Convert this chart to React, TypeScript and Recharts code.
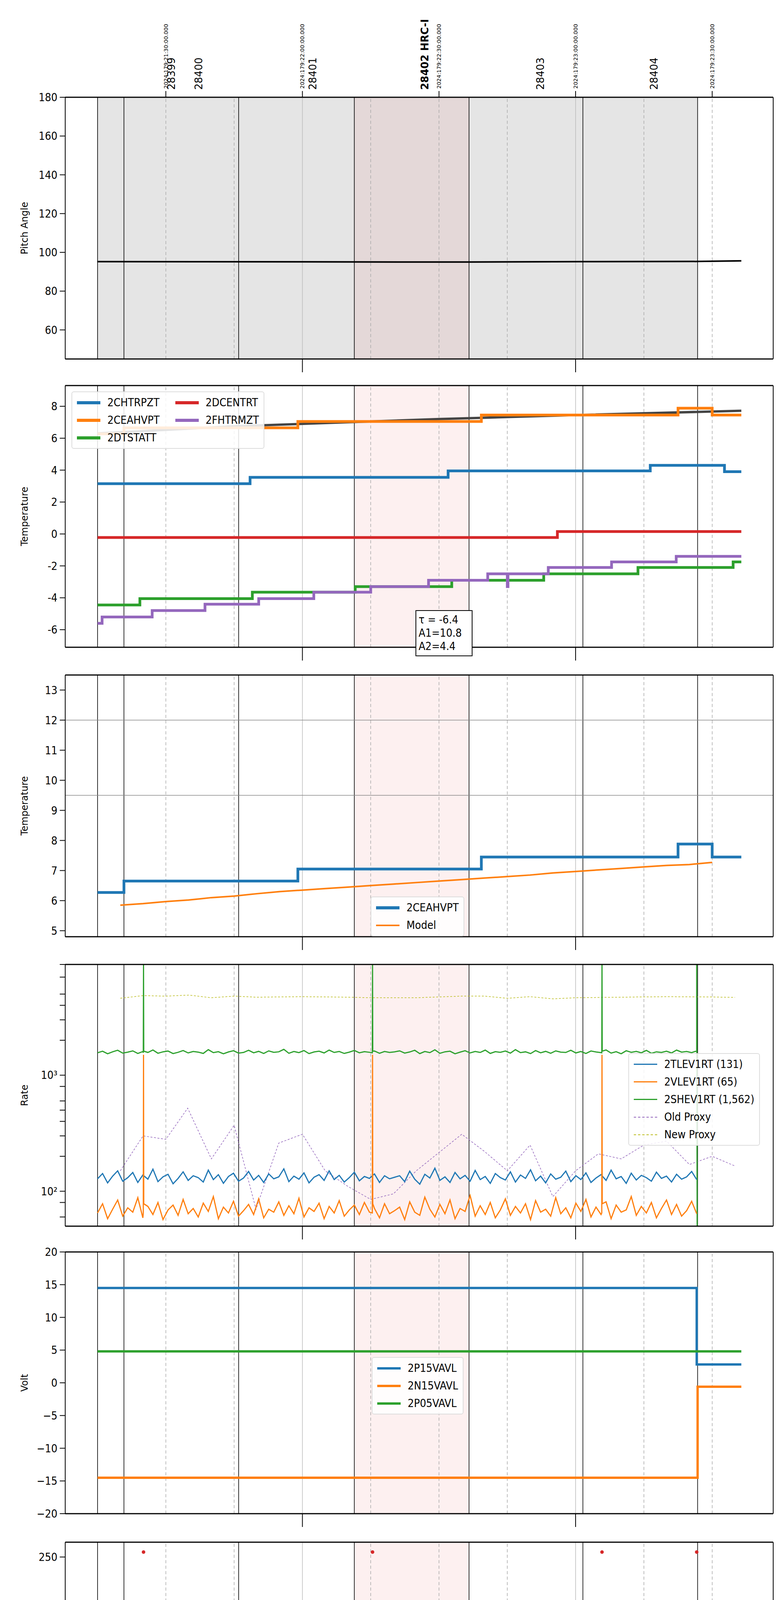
import React from 'react'
import { ComposedChart, Line, Scatter, XAxis, YAxis, ReferenceLine, ReferenceArea } from 'recharts'

// time in minutes after 17h (2024-06-27)
const X_DOMAIN = [7.9, 163.4]
const X_TICKS = [15, 30, 45, 60, 75, 90, 105, 120, 135, 150]
const T_END = 156.4
const SPIKES = [25.1, 75.4, 125.8]
const DIPS: [number, number][] = [[134.2, 135.3], [136.0, 136.7], [138.2, 138.7], [139.9, 140.5], [141.1, 141.9], [144.2, 145.0], [145.8, 146.3]]

const OBS_BOUNDS = [15, 20.8, 46, 71.4, 96.6, 121.6, 146.8]
const HRC_START = 71.4
const HRC_STOP = 96.6
const OBSIDS = [
  { t: 31, label: '28399', bold: false },
  { t: 37, label: '28400', bold: false },
  { t: 62, label: '28401', bold: false },
  { t: 86.6, label: '28402 HRC-I', bold: true },
  { t: 112, label: '28403', bold: false },
  { t: 137, label: '28404', bold: false },
]
const DATE_TICKS = [30, 60, 90, 120, 150]
const DATE_LABELS = ['2024:179:21:30:00.000', '2024:179:22:00:00.000', '2024:179:22:30:00.000', '2024:179:23:00:00.000', '2024:179:23:30:00.000']

// panel 1
const pitch: [number, number][] = [[15, 95.2], [60, 95.1], [96.6, 95.0], [121.6, 95.2], [146.8, 95.3], [156.4, 95.6]]

// panel 2
const chtrpzt: [number, number][] = [[15, 3.15], [48.5, 3.55], [92, 3.95], [136.4, 4.3], [152.7, 3.9]]
const ceahvpt: [number, number][] = [[15, 6.27], [20.8, 6.65], [59, 7.05], [99.3, 7.45], [142.5, 7.88], [150, 7.45]]
const dtstatt: [number, number][] = [[15, -4.45], [24.3, -4.05], [49, -3.65], [71.6, -3.3], [92.8, -2.9], [113, -2.5], [133.7, -2.1], [154.6, -1.75]]
const dcentrt: [number, number][] = [[15, -0.22], [116, 0.15]]
const fhtrmzt: [number, number][] = [[15, -5.6], [16, -5.2], [27, -4.8], [38.6, -4.4], [50.4, -4.05], [62.5, -3.65], [75, -3.3], [87.7, -2.9], [100.7, -2.5], [114, -2.1], [127.9, -1.75], [142.1, -1.4]]
const tempModel: [number, number][] = [[15, 6.3], [45, 6.75], [90, 7.2], [120, 7.45], [156.4, 7.72]]

// panel 3
const ceaModel: [number, number][] = [[20, 5.85], [25, 5.9], [30, 5.97], [35, 6.02], [40, 6.1], [45, 6.15], [50, 6.23], [55, 6.3], [60, 6.35], [65, 6.4], [70, 6.45], [75, 6.5], [80, 6.55], [85, 6.6], [90, 6.65], [95, 6.7], [100, 6.75], [105, 6.8], [110, 6.85], [115, 6.92], [120, 6.97], [125, 7.02], [130, 7.07], [135, 7.12], [140, 7.17], [145, 7.2], [150, 7.27]]

// panel 4 (rates, sampled every ~1.1 min)
const tlev = [128, 142, 118, 135, 150, 122, 131, 145, 119, 138, 127, 155, 121, 133, 140, 116, 129, 147, 124, 136, 131, 120, 152, 126, 139, 117, 134, 143, 122, 130, 148, 125, 137, 119, 141, 128, 133, 156, 121, 135, 127, 144, 118, 132, 139, 124, 150, 126, 137, 120, 131, 146, 123, 134, 129, 141, 119, 136, 128, 132,
  136, 121, 149, 127, 115, 140, 130, 158, 124, 133, 119, 145, 128, 137, 122, 151, 126, 134, 117, 142, 131, 125, 147, 120, 138, 129, 153, 123, 135, 118, 141, 127, 132, 149, 121, 136, 126, 144, 119, 130, 139, 124, 152, 128, 134, 117, 143, 125, 137, 131, 122, 146, 129, 135, 120, 140, 127, 133, 148, 126]
const vlev = [65, 78, 58, 70, 84, 61, 72, 66, 88, 59, 74, 63, 80, 57, 69, 76, 62, 85, 64, 71, 60, 79, 67, 90, 58, 73, 65, 82, 61, 68, 77, 63, 86, 59, 70, 66, 81, 62, 75, 64, 87, 60, 72, 67, 79, 58, 74, 65, 83, 61, 69, 76, 63, 80, 66, 71, 59, 78, 64, 68,
  73, 57, 81, 66, 62, 89, 70, 60, 77, 64, 84, 58, 71, 67, 92, 61, 75, 63, 80, 59, 69, 86, 62, 74, 65, 78, 57, 83, 66, 70, 61, 88, 64, 72, 59, 79, 67, 85, 60, 73, 63, 81, 58, 76, 66, 69, 90, 62, 74, 65, 80, 59, 71, 84, 63, 77, 61, 68, 82, 64]
const shev = [1560, 1610, 1530, 1590, 1640, 1550, 1580, 1620, 1540, 1600, 1570, 1650, 1545, 1590, 1615, 1535, 1575, 1630, 1555, 1600, 1580, 1540, 1660, 1565, 1595, 1530, 1585, 1625, 1550, 1570, 1640, 1560, 1605, 1540, 1620, 1575, 1590, 1670, 1545, 1600, 1565, 1630, 1535, 1585, 1610, 1555, 1645, 1570, 1600, 1540, 1580, 1635, 1560, 1595, 1575, 1615, 1545, 1600, 1570, 1590,
  1620, 1550, 1585, 1640, 1535, 1600, 1565, 1655, 1545, 1590, 1610, 1530, 1580, 1625, 1555, 1600, 1570, 1645, 1540, 1595, 1575, 1615, 1550, 1660, 1565, 1590, 1535, 1630, 1560, 1605, 1545, 1620, 1580, 1570, 1640, 1555, 1600, 1540, 1615, 1585, 1565, 1650, 1550, 1595, 1530, 1625, 1575, 1605, 1560, 1635, 1545, 1590, 1570, 1610, 1555, 1645, 1580, 1600, 1565, 1620]
const oldProxy: [number, number][] = [[20, 150], [25, 300], [30, 280], [34.8, 520], [40, 190], [45, 370], [49.8, 70], [54.8, 260], [60, 310], [65, 150], [70, 110], [75, 85], [80, 95], [85, 150], [95, 310], [100, 220], [105, 150], [110, 250], [115, 90], [120, 150], [125, 210], [130, 190], [135, 250], [140, 270], [145, 170], [150, 200], [155, 165]]
const newProxy: [number, number][] = [[20, 4600], [25, 4850], [30, 4800], [35, 4900], [40, 4650], [45, 4800], [50, 4700], [60, 4750], [70, 4700], [75, 4650], [85, 4650], [95, 4800], [100, 4800], [105, 4600], [110, 4750], [115, 4550], [120, 4650], [130, 4700], [140, 4750], [150, 4720], [155, 4680]]

// panel 5
const p15: [number, number][] = [[15, 14.5], [146.6, 2.8]]
const n15: [number, number][] = [[15, -14.5], [146.8, -0.6]]
const p05: [number, number][] = [[15, 4.8]]

// panel 6
const imhblvBase: [number, number][] = [[15, 86], [146.6, 86]]
const imhvlvBase: [number, number][] = [[15, 79], [146.6, 79]]
const imhblvHigh = [25.1, 75.4, 125.8, 146.6]
const imhvlvHigh = [134.2, 134.5, 135.8, 137.3, 139.7, 140.0, 142.8, 144.6]
const imhblvLow = [134.3, 135.8, 137.3, 138.4, 139.0, 139.6, 142.7, 144.6]

// panel 7
const spinatm: [number, number][] = [[15, 1.25], [62.6, 1.75]]
const sphvatm: [number, number][] = [[15, 14.0], [43.8, 14.3], [76.7, 14.65], [110, 15.0]]
const iminatm: [number, number][] = [[15, -0.1], [96.9, 0.35]]
const imhvatm: [number, number][] = [[15, 15.3], [19.6, 15.7], [44, 16.0], [73.6, 16.35], [104.6, 16.7], [140, 17.05]]

// panel 8
const fradpyt: [number, number][] = [[15, -8.0], [22.3, -7.6], [34.5, -7.2], [47.8, -6.8], [60, -6.4], [73.5, -6.0], [87.5, -5.6], [101.5, -5.2], [116, -4.8], [130.7, -4.4], [145.2, -4.05], [156, -4.5]]
const fepratm: [number, number][] = [[15, -3.55], [18.1, -3.1], [30.5, -2.7], [43.6, -2.25], [57, -1.85], [70.8, -1.4], [85.5, -0.95], [100.3, -0.55], [116.3, -0.15], [132.2, 0.35]]
const fe00atm: [number, number][] = [[15, -5.7], [20.9, -5.4], [30.5, -5.0], [39.5, -4.65], [49.8, -4.3], [59.3, -4.0], [69.1, -3.65], [79.4, -3.3], [90.1, -2.95], [101.3, -2.6], [112, -2.25], [123.3, -1.9], [133, -1.65]]

const C = { blue: '#1f77b4', orange: '#ff7f0e', green: '#2ca02c', red: '#d62728', purple: '#9467bd', olive: '#bcbd22' }
const TICK_FONT = 'Liberation Sans Narrow, DejaVu Sans Condensed, DejaVu Sans, sans-serif'

type P = { t: number; v: number }

function baseAt(steps: [number, number][], t: number) {
  let v = steps[0][1]
  for (const [s, val] of steps) if (s <= t) v = val
  return v
}

function stepData(steps: [number, number][], end: number, spikes: [number, number][] = [], dips: [number, number, number][] = []): P[] {
  const pts: P[] = steps.map(([t, v]) => ({ t, v }))
  pts.push({ t: end, v: baseAt(steps, end) })
  for (const [t, v] of spikes) {
    pts.push({ t, v }, { t: t + 0.15, v: baseAt(steps, t) })
  }
  for (const [a, b, v] of dips) {
    pts.push({ t: a, v }, { t: b, v: baseAt(steps, b) })
  }
  return pts.sort((p, q) => p.t - q.t)
}

function sampled(vals: number[], spikes: [number, number][], extra: P[] = []): P[] {
  const step = (146.6 - 15) / (vals.length - 1)
  const pts: P[] = vals.map((v, i) => ({ t: 15 + i * step, v }))
  for (const [t, v] of spikes) pts.push({ t: t - 0.05, v: vals[0] }, { t, v }, { t: t + 0.05, v: vals[1] })
  return [...pts, ...extra].sort((p, q) => p.t - q.t)
}

const pts = (a: [number, number][]): P[] => a.map(([t, v]) => ({ t, v }))

const PLOT_TOPS = [248, 986, 1727, 2468, 3204, 3947, 4682, 5420]
const PLOT_H = 672

function XTick(props: any) {
  const { x, y, payload, bottom } = props
  const major = payload.value === 60 || payload.value === 120
  return (
    <g>
      {major && <line x1={x} x2={x} y1={y} y2={y + 34} stroke="#000" strokeWidth={2} />}
      {bottom && !major && <line x1={x} x2={x} y1={y} y2={y + 6} stroke="#000" strokeWidth={1} />}
      {bottom && !major && (
        <text x={x} y={y + 30} textAnchor="middle" fontSize={18} fontFamily={TICK_FONT}>{payload.value % 60}</text>
      )}
      {bottom && major && (
        <text x={x} y={y + 70} textAnchor="middle" fontSize={30} fontFamily={TICK_FONT}>{payload.value === 60 ? '18h' : '19h'}</text>
      )}
    </g>
  )
}

function TopTick(props: any) {
  const { x, y, payload } = props
  const i = DATE_TICKS.indexOf(payload.value)
  return (
    <g>
      <line x1={x} x2={x} y1={y} y2={y - 16} stroke="#000" strokeWidth={2} />
      <text transform={`translate(${x + 5},${y - 22}) rotate(-90)`} fontSize={14} fontFamily="DejaVu Sans">{DATE_LABELS[i]}</text>
    </g>
  )
}

function YTick(props: any) {
  const { x, y, payload, fmt } = props
  return (
    <text x={x - 4} y={y} dy={10} textAnchor="end" fontSize={28} fontFamily={TICK_FONT}>{fmt ? fmt(payload.value) : payload.value}</text>
  )
}

function Panel({ idx, yDomain, yTicks, yLabel, children, log, yFmt, grey, bottom, top }: any) {
  const topM = idx === 0 ? PLOT_TOPS[0] : 20
  const h = topM + PLOT_H + (bottom ? 130 : 50)
  return (
    <div style={{ position: 'absolute', left: 0, top: PLOT_TOPS[idx] - topM }}>
      <ComposedChart width={2000} height={h} margin={{ top: topM, right: 19, left: 40, bottom: bottom ? 130 : 50 }}>
        <XAxis type="number" dataKey="t" xAxisId="b" domain={X_DOMAIN} ticks={X_TICKS} allowDataOverflow
          tickLine={false} tickSize={0} tickMargin={0} tick={<XTick bottom={bottom} />} height={1} axisLine={{ stroke: '#000', strokeWidth: 3 }} />
        <XAxis type="number" dataKey="t" xAxisId="top" orientation="top" domain={X_DOMAIN} ticks={DATE_TICKS} allowDataOverflow
          tickLine={false} tickSize={0} tickMargin={0} tick={top ? <TopTick /> : false} height={1} axisLine={{ stroke: '#000', strokeWidth: 3 }} />
        <YAxis type="number" dataKey="v" domain={yDomain} ticks={yTicks} scale={log ? 'log' : 'auto'} allowDataOverflow width={127}
          tickSize={14} tickLine={{ stroke: '#000', strokeWidth: 2 }} axisLine={{ stroke: '#000', strokeWidth: 2 }}
          tick={<YTick fmt={yFmt} />}
          label={{ value: yLabel, angle: -90, position: 'insideLeft', offset: 22, style: { fontSize: 24, fontFamily: 'DejaVu Sans', textAnchor: 'middle', fill: '#000' } }} />
        <YAxis yAxisId="r" orientation="right" width={1} tick={false} axisLine={{ stroke: '#000', strokeWidth: 2 }} tickLine={false} />
        {grey && <ReferenceArea xAxisId="b" x1={15} x2={146.8} fill="#e5e5e5" fillOpacity={1} stroke="none" ifOverflow="hidden" />}
        <ReferenceArea xAxisId="b" x1={HRC_START} x2={HRC_STOP} fill={grey ? '#e4d8d8' : '#fdf0f0'} fillOpacity={1} stroke="none" ifOverflow="hidden" />
        {[30, 45, 75, 90, 105, 135, 150].map(t => (
          <ReferenceLine key={'d' + t} xAxisId="b" x={t} stroke="#aaa" strokeDasharray="8 6" strokeWidth={1.5} />
        ))}
        {[60, 120].map(t => <ReferenceLine key={'h' + t} xAxisId="b" x={t} stroke="#bbb" strokeWidth={1.5} />)}
        {OBS_BOUNDS.map(t => <ReferenceLine key={'o' + t} xAxisId="b" x={t} stroke="#000" strokeWidth={1.6} />)}
        {top && OBSIDS.map(o => (
          <ReferenceLine key={o.label} xAxisId="b" x={o.t} stroke="none" label={(p: any) => (
            <text transform={`translate(${p.viewBox.x + 12},${PLOT_TOPS[0] - 18}) rotate(-90)`} fontSize={26}
              fontWeight={o.bold ? 'bold' : 'normal'} fontFamily="DejaVu Sans">{o.label}</text>
          )} />
        ))}
        {children}
      </ComposedChart>
    </div>
  )
}

function L({ data, color, w = 7, type = 'stepAfter', dash, name }: any) {
  return <Line xAxisId="b" data={data} dataKey="v" name={name} type={type} stroke={color} strokeWidth={w} dot={false}
    strokeDasharray={dash} isAnimationActive={false} />
}

function LegendBox({ items, left, top, cols = 1, dots }: any) {
  const rows = Math.ceil(items.length / cols)
  return (
    <div style={{
      position: 'absolute', left, top, background: 'rgba(255,255,255,0.85)', border: '2px solid #ddd', borderRadius: 6,
      padding: '10px 12px', display: 'grid', gridTemplateRows: `repeat(${rows}, auto)`, gridAutoFlow: 'column',
      columnGap: 40, rowGap: 12, fontFamily: TICK_FONT, fontSize: 28,
    }}>
      {items.map((it: any) => (
        <div key={it.name} style={{ display: 'flex', alignItems: 'center', gap: 18 }}>
          {dots ? (
            <span style={{ width: 60, display: 'flex', justifyContent: 'center' }}>
              <span style={{ width: 10, height: 10, borderRadius: 5, background: it.color }} />
            </span>
          ) : (
            <span style={{ width: 60, height: 0, borderTop: `${it.w ?? 8}px ${it.dash ? 'dashed' : 'solid'} ${it.color}` }} />
          )}
          <span>{it.name}</span>
        </div>
      ))}
    </div>
  )
}

const spikesTo = (v: number): [number, number][] => SPIKES.map(t => [t, v])
const dipsTo = (v: number): [number, number, number][] => DIPS.map(([a, b]) => [a, b, v])

export default function App() {
  const sup = (v: number) => (v === 100 ? '10²' : v === 1000 ? '10³' : '')
  return (
    <div style={{ position: 'absolute', left: 0, top: 0, width: 2000, height: 6200, background: '#fff' }}>
      <Panel idx={0} yDomain={[45, 180]} yTicks={[60, 80, 100, 120, 140, 160, 180]} yLabel="Pitch Angle" grey top>
        <L data={pts(pitch)} color="#000" w={4} type="linear" />
      </Panel>

      <Panel idx={1} yDomain={[-7.1, 9.3]} yTicks={[-6, -4, -2, 0, 2, 4, 6, 8]} yLabel="Temperature">
        <L data={pts(tempModel)} color="#444" w={6} type="linear" />
        <L data={stepData(chtrpzt, T_END)} color={C.blue} />
        <L data={stepData(ceahvpt, T_END)} color={C.orange} />
        <L data={stepData(dtstatt, T_END)} color={C.green} />
        <L data={stepData(dcentrt, T_END)} color={C.red} />
        <L data={stepData(fhtrmzt, T_END, [[105, -3.3]])} color={C.purple} />
      </Panel>
      <LegendBox left={183} top={PLOT_TOPS[1] + 16} cols={2} items={[
        { name: '2CHTRPZT', color: C.blue }, { name: '2CEAHVPT', color: C.orange }, { name: '2DTSTATT', color: C.green },
        { name: '2DCENTRT', color: C.red }, { name: '2FHTRMZT', color: C.purple }]} />
      <div style={{ position: 'absolute', left: 1064, top: PLOT_TOPS[1] + 576, width: 130, border: '2px solid #000', background: '#fff',
        padding: '6px 6px', fontFamily: TICK_FONT, fontSize: 28, lineHeight: '34px' }}>
        <div>τ = -6.4</div><div>A1=10.8</div><div>A2=4.4</div>
      </div>

      <Panel idx={2} yDomain={[4.8, 13.5]} yTicks={[5, 6, 7, 8, 9, 10, 11, 12, 13]} yLabel="Temperature">
        <ReferenceLine xAxisId="b" y={12} stroke="#888" strokeWidth={1.5} />
        <ReferenceLine xAxisId="b" y={9.5} stroke="#888" strokeWidth={1.5} />
        <L data={stepData(ceahvpt, T_END)} color={C.blue} w={7} />
        <L data={pts(ceaModel)} color={C.orange} w={4} type="linear" />
      </Panel>
      <LegendBox left={949} top={PLOT_TOPS[2] + 568} items={[
        { name: '2CEAHVPT', color: C.blue }, { name: 'Model', color: C.orange, w: 4 }]} />

      <Panel idx={3} yDomain={[50, 9000]} yTicks={[60, 70, 80, 90, 100, 200, 300, 400, 500, 600, 700, 800, 900, 1000, 2000, 3000, 4000, 5000, 6000, 7000, 8000, 9000]}
        yLabel="Rate" log yFmt={sup}>
        <L data={pts(oldProxy)} color={C.purple} w={1.5} type="linear" dash="5 4" />
        <L data={pts(newProxy)} color={C.olive} w={1.5} type="linear" dash="5 4" />
        <L data={sampled(shev, spikesTo(9000), [{ t: 146.6, v: 9000 }, { t: 146.7, v: 50 }])} color={C.green} w={3} type="linear" />
        <L data={sampled(tlev, [])} color={C.blue} w={3} type="linear" />
        <L data={sampled(vlev, spikesTo(1500))} color={C.orange} w={3} type="linear" />
      </Panel>
      <LegendBox left={1609} top={PLOT_TOPS[3] + 228} items={[
        { name: '2TLEV1RT (131)', color: C.blue, w: 3 }, { name: '2VLEV1RT (65)', color: C.orange, w: 3 },
        { name: '2SHEV1RT (1,562)', color: C.green, w: 3 }, { name: 'Old Proxy', color: C.purple, w: 2, dash: true },
        { name: 'New Proxy', color: C.olive, w: 2, dash: true }]} />

      <Panel idx={4} yDomain={[-20, 20]} yTicks={[-20, -15, -10, -5, 0, 5, 10, 15, 20]} yLabel="Volt" yFmt={(v: number) => (v < 0 ? '−' + -v : v)}>
        <L data={stepData(p15, T_END)} color={C.blue} w={6} />
        <L data={stepData(n15, T_END)} color={C.orange} w={6} />
        <L data={stepData(p05, T_END)} color={C.green} w={6} />
      </Panel>
      <LegendBox left={952} top={PLOT_TOPS[4] + 270} items={[
        { name: '2P15VAVL', color: C.blue, w: 6 }, { name: '2N15VAVL', color: C.orange, w: 6 }, { name: '2P05VAVL', color: C.green, w: 6 }]} />

      <Panel idx={5} yDomain={[0, 265]} yTicks={[0, 50, 100, 150, 200, 250]} yLabel="HV Monitor">
        <L data={pts(imhvlvBase)} color={C.green} w={9} type="linear" />
        <L data={pts(imhblvBase)} color={C.red} w={9} type="linear" />
        <Scatter xAxisId="b" data={imhvlvHigh.map(t => ({ t, v: 127 }))} dataKey="v" fill={C.green} shape="circle" isAnimationActive={false} />
        <Scatter xAxisId="b" data={imhblvLow.map(t => ({ t, v: 79 }))} dataKey="v" fill={C.red} isAnimationActive={false} />
        <Scatter xAxisId="b" data={imhblvHigh.map(t => ({ t, v: 255 }))} dataKey="v" fill={C.red} isAnimationActive={false} />
      </Panel>
      <LegendBox left={962} top={PLOT_TOPS[5] + 483} dots items={[
        { name: '2SPHBLV', color: C.blue }, { name: '2SPHVLV', color: C.orange }, { name: '2IMHVLV', color: C.green }, { name: '2IMHBLV', color: C.red }]} />

      <Panel idx={6} yDomain={[-1.5, 18.2]} yTicks={[0, 2.5, 5, 7.5, 10, 12.5, 15, 17.5]} yLabel="Detector Temp" yFmt={(v: number) => v.toFixed(1)}>
        <L data={stepData(spinatm, 146.6, [], dipsTo(-3))} color={C.blue} />
        <L data={stepData(sphvatm, 146.6, [[66, 14.7]], dipsTo(8.4))} color={C.orange} />
        <L data={stepData(iminatm, 146.6, [], dipsTo(1.75))} color={C.green} />
        <L data={[...stepData(imhvatm, 146.8, [...spikesTo(-3), [47.5, 15.6]], dipsTo(14.9)), { t: 146.9, v: 20 }, { t: 147.0, v: -3 }]} color={C.red} />
      </Panel>
      <LegendBox left={949} top={PLOT_TOPS[6] + 249} items={[
        { name: '2SPINATM', color: C.blue }, { name: '2SPHVATM', color: C.orange }, { name: '2IMINATM', color: C.green }, { name: '2IMHVATM', color: C.red }]} />

      <Panel idx={7} yDomain={[-8.3, 0.95]} yTicks={[-8, -6, -4, -2, 0]} yLabel="FEA Temp" bottom>
        <L data={stepData(fhtrmzt, T_END, [[105, -3.3]])} color={C.blue} />
        <L data={stepData(fradpyt, T_END)} color={C.orange} />
        <L data={stepData(fepratm, 146.3, [[25.1, -5.3], [75.4, -3.6], [125.8, -2.0]], dipsTo(-6.1))} color={C.green} />
        <L data={[...stepData(fe00atm, 146.8, [...spikesTo(-9), [30, -4.65], [34.5, -5.4], [54.5, -3.9], [67, -3.65]], dipsTo(2)), { t: 146.9, v: -9 }]} color={C.red} />
      </Panel>
      <LegendBox left={183} top={PLOT_TOPS[7] + 15} items={[
        { name: '2FHTRMZT', color: C.blue }, { name: '2FRADPYT', color: C.orange }, { name: '2FEPRATM', color: C.green }, { name: '2FE00ATM', color: C.red }]} />
      <div style={{ position: 'absolute', left: 0, width: 2000, top: 6145, textAlign: 'center', paddingLeft: 160, boxSizing: 'border-box',
        fontFamily: TICK_FONT, fontSize: 36 }}>2024-06-27 (179)</div>
    </div>
  )
}
